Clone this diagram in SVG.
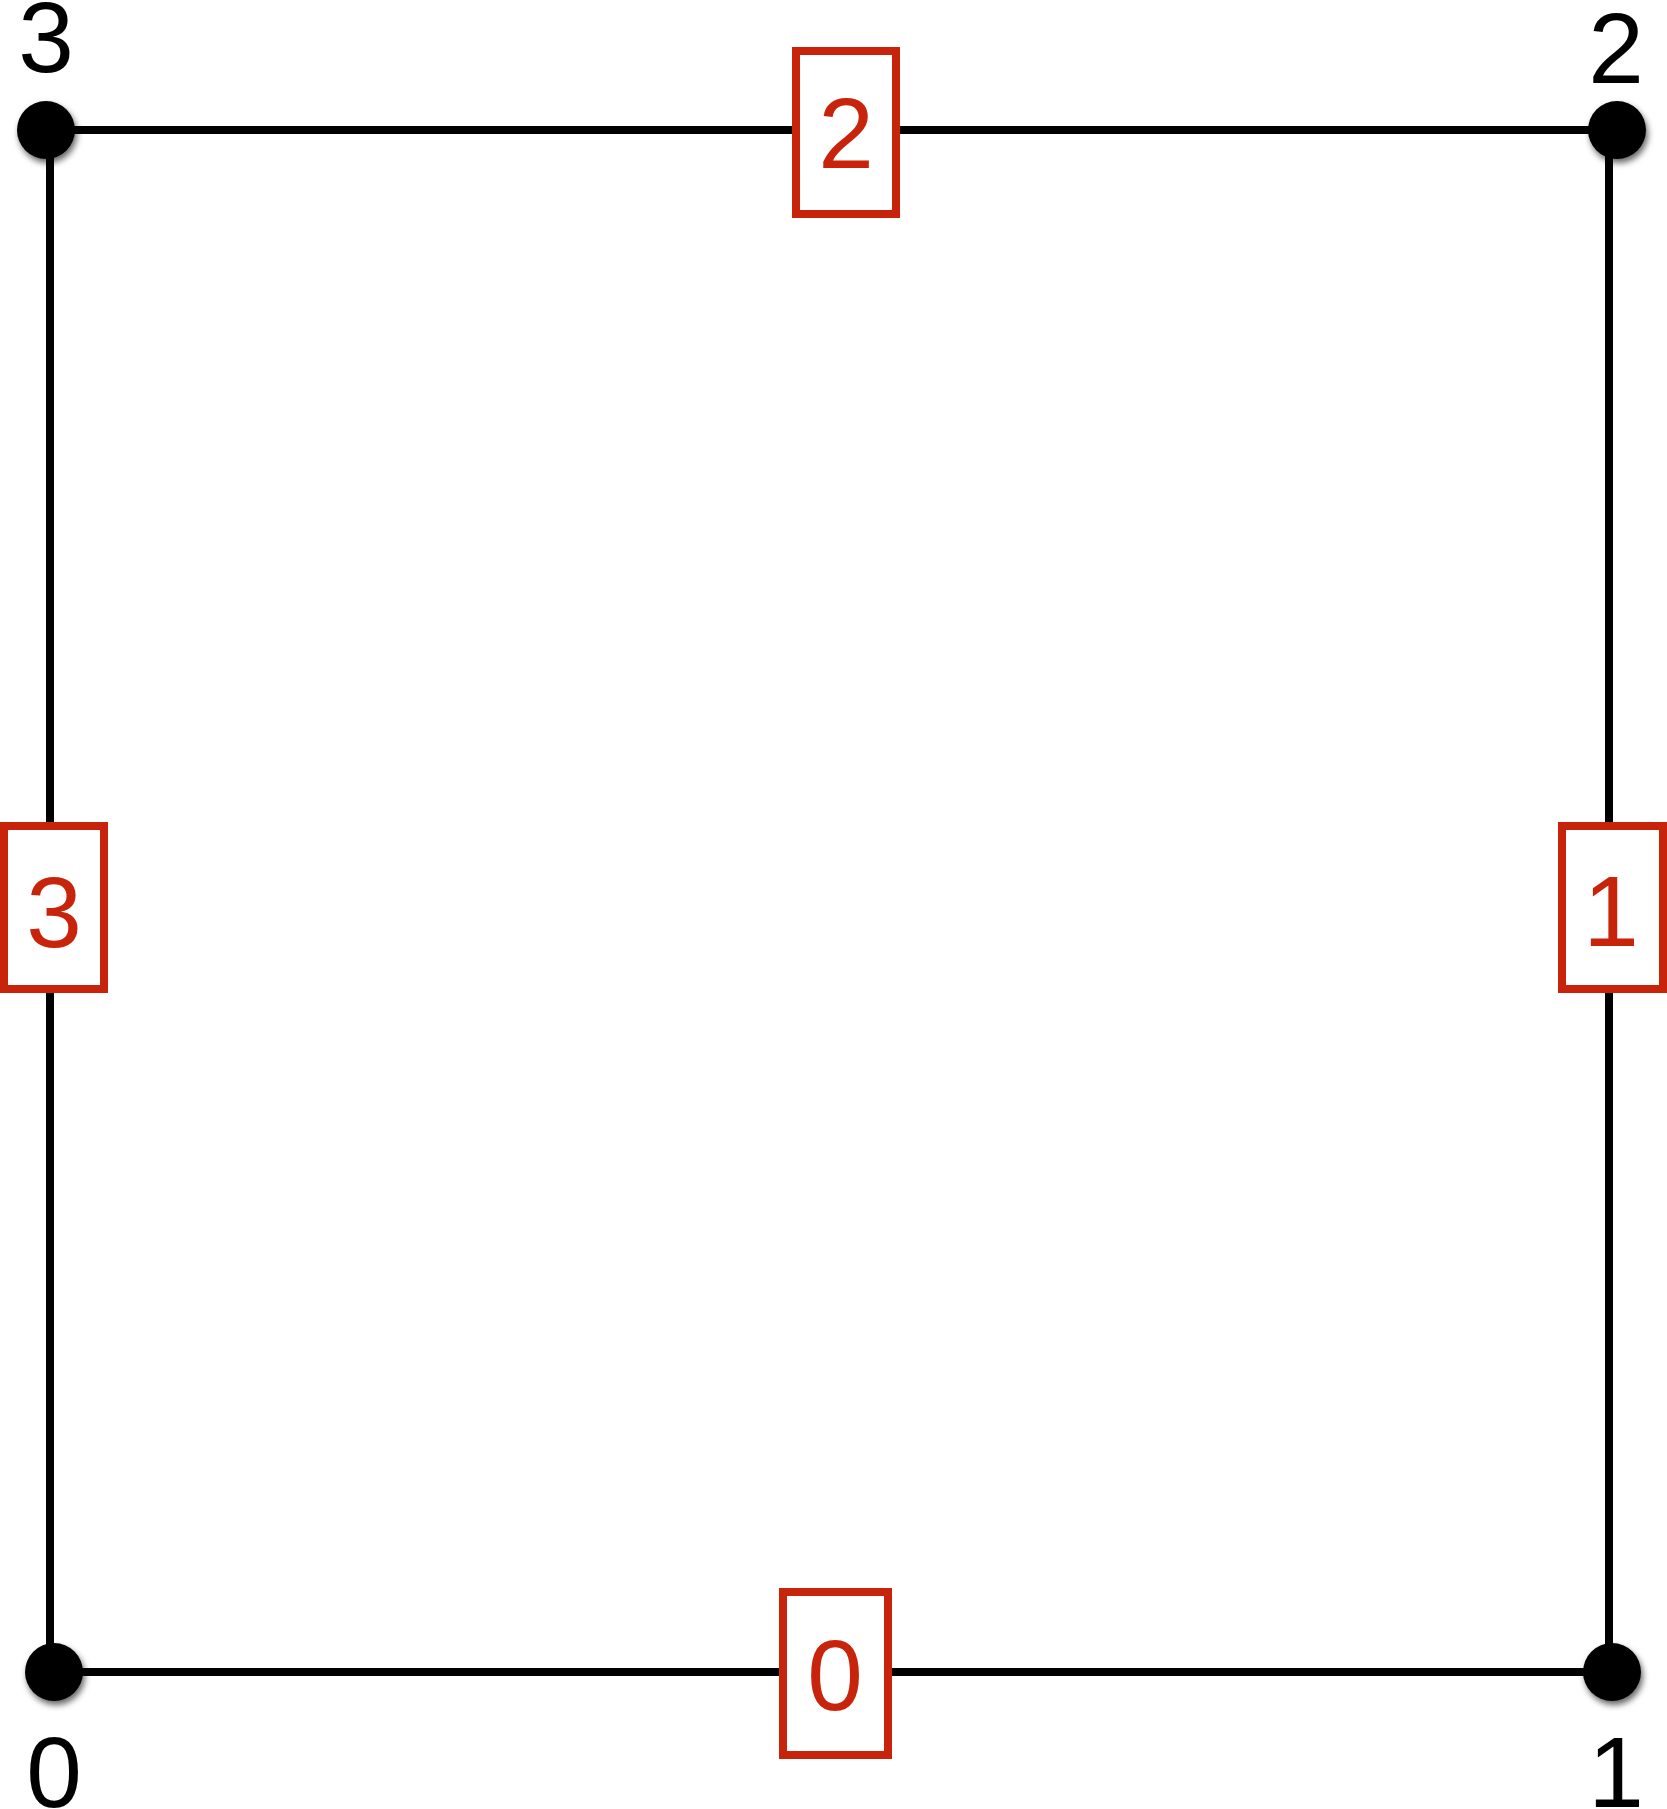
<svg xmlns="http://www.w3.org/2000/svg" width="1667" height="1809" viewBox="0 0 1667 1809">
<defs>
<filter id="sh" x="-50%" y="-50%" width="200%" height="200%">
<feDropShadow dx="2" dy="4" stdDeviation="3" flood-color="#000" flood-opacity="0.6"/>
</filter>
<style>
.edge{stroke:#000;stroke-width:8;fill:none}
.dot{fill:#000;filter:url(#sh)}
.vlab{font-family:"Liberation Sans",Arial,sans-serif;font-size:100px;fill:#000;text-anchor:middle}
.box{fill:#fff;stroke:#c8240b;stroke-width:8}
.elab{font-family:"Liberation Sans",Arial,sans-serif;font-size:100px;fill:#c8240b;text-anchor:middle}
</style>
</defs>
<rect width="1667" height="1809" fill="#fff"/>
<g id="connectors">
<line class="edge" x1="46" y1="130" x2="1617" y2="130"/>
<line class="edge" x1="50" y1="130" x2="50" y2="1672"/>
<line class="edge" x1="1609" y1="130" x2="1609" y2="1672"/>
<line class="edge" x1="54" y1="1672" x2="1612" y2="1672"/>
</g>
<g id="v3"><circle class="dot" cx="46" cy="130" r="29"/><text class="vlab" x="46" y="72">3</text></g>
<g id="v2"><circle class="dot" cx="1617" cy="130" r="29"/><text class="vlab" x="1616" y="83">2</text></g>
<g id="v0"><circle class="dot" cx="54" cy="1672" r="29"/><text class="vlab" x="54" y="1807">0</text></g>
<g id="v1"><circle class="dot" cx="1612" cy="1672" r="29"/><text class="vlab" x="1616" y="1807">1</text></g>
<g id="e2"><rect class="box" x="796" y="51" width="100" height="163"/><text class="elab" x="846" y="168">2</text></g>
<g id="e3"><rect class="box" x="4" y="826" width="100" height="163"/><text class="elab" x="54" y="947">3</text></g>
<g id="e1"><rect class="box" x="1562" y="826" width="101" height="163"/><text class="elab" x="1611" y="946">1</text></g>
<g id="e0"><rect class="box" x="783" y="1592" width="105" height="163"/><text class="elab" x="835" y="1710">0</text></g>
</svg>
